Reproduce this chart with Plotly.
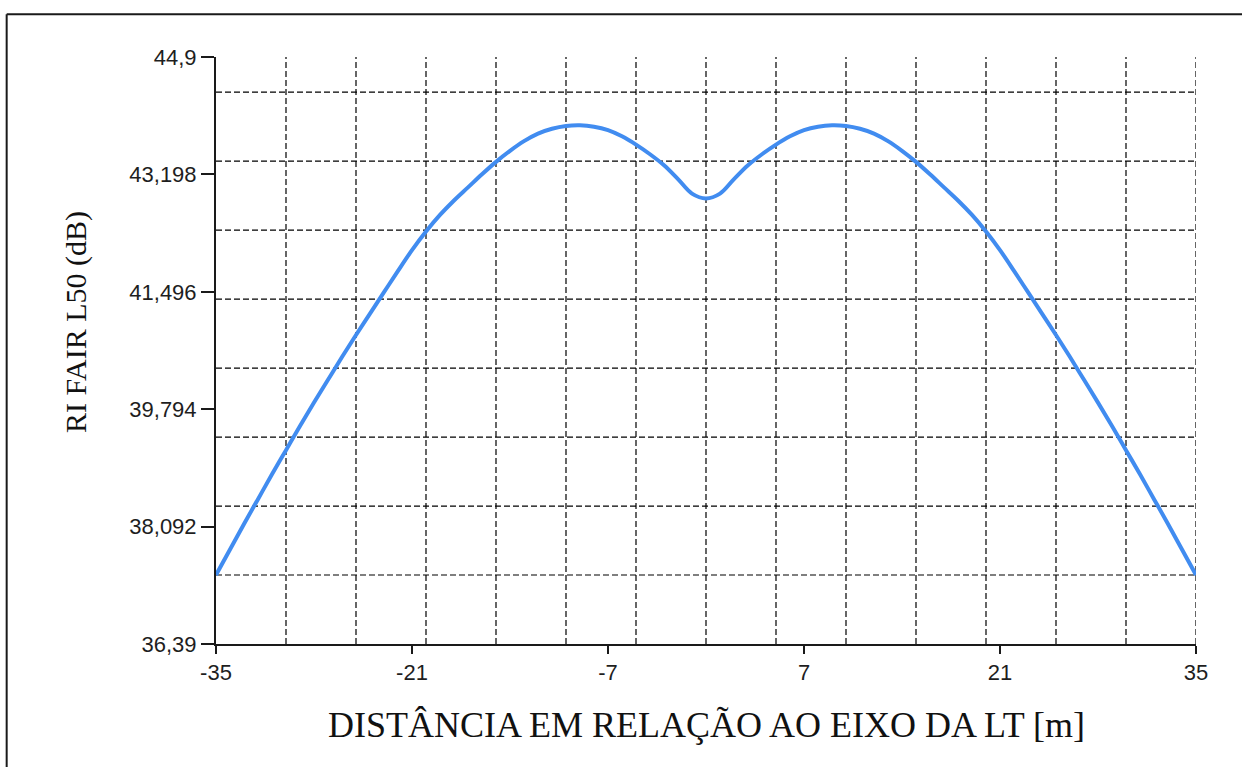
import plotly.graph_objects as go

# Lateral profile of radio interference (RI FAIR L50) across the line axis
distance_m = [-35, -34, -33, -32, -31, -30, -29, -28, -27, -26, -25, -24, -23, -22, -21,
              -20, -19, -18, -17, -16, -15, -14, -13, -12, -11, -10, -9, -8, -7, -6,
              -5, -4, -3, -2, -1, 0,
              1, 2, 3, 4, 5, 6, 7, 8, 9, 10, 11, 12, 13, 14, 15, 16, 17, 18, 19,
              20, 21, 22, 23, 24, 25, 26, 27, 28, 29, 30, 31, 32, 33, 34, 35]
ri_db = [37.39, 37.76, 38.13, 38.49, 38.85, 39.20, 39.55, 39.89, 40.22, 40.55, 40.87,
         41.18, 41.49, 41.80, 42.10, 42.37, 42.61, 42.82, 43.01, 43.20, 43.38, 43.54,
         43.68, 43.79, 43.86, 43.90, 43.91, 43.89, 43.84, 43.75, 43.63, 43.49, 43.33,
         43.13, 42.92, 42.85,
         42.92, 43.13, 43.33, 43.49, 43.63, 43.75, 43.84, 43.89, 43.91, 43.90, 43.86,
         43.79, 43.68, 43.54, 43.38, 43.20, 43.01, 42.82, 42.61, 42.37, 42.10, 41.80,
         41.49, 41.18, 40.87, 40.55, 40.22, 39.89, 39.55, 39.20, 38.85, 38.49, 38.13,
         37.76, 37.39]

# Axis ticks and grid positions
x_tickvals = [-35, -21, -7, 7, 21, 35]
x_ticktext = ["-35", "-21", "-7", "7", "21", "35"]
y_tickvals = [36.39, 38.092, 39.794, 41.496, 43.198, 44.9]
y_ticktext = ["36,39", "38,092", "39,794", "41,496", "43,198", "44,9"]
grid_x = [-30, -25, -20, -15, -10, -5, 0, 5, 10, 15, 20, 25, 30, 35]
grid_y = [37.39, 38.39, 39.39, 40.39, 41.39, 42.39, 43.39, 44.39]

x_title = "DISTÂNCIA EM RELAÇÃO AO EIXO DA LT [m]"
y_title = "RI FAIR L50 (dB)"

fig = go.Figure()
fig.add_trace(go.Scatter(
    x=distance_m, y=ri_db, mode="lines",
    line=dict(color="#418CF0", width=4, shape="spline", smoothing=1.0),
    hoverinfo="x+y", showlegend=False,
))

grid_style = dict(color="black", width=1.2, dash="6px,3px")
shapes = []
for gx in grid_x:
    shapes.append(dict(type="line", xref="x", yref="paper", x0=gx, x1=gx, y0=0, y1=1,
                       line=grid_style, layer="below"))
for gy in grid_y:
    shapes.append(dict(type="line", xref="paper", yref="y", x0=0, x1=1, y0=gy, y1=gy,
                       line=grid_style, layer="below"))
# outer frame (top and left edges)
shapes.append(dict(type="line", xref="paper", yref="paper", x0=-0.2136, x1=1.2,
                   y0=1.0727, y1=1.0727, line=dict(color="#1a1a1a", width=2)))
shapes.append(dict(type="line", xref="paper", yref="paper", x0=-0.2136, x1=-0.2136,
                   y0=1.0727, y1=-0.4, line=dict(color="#1a1a1a", width=2)))

tick_font = dict(family="Liberation Sans, Arial, sans-serif", size=22, color="#1e1e1e")
title_font = dict(family="Liberation Serif, Times New Roman, serif", color="#111111")

fig.update_layout(
    width=1242, height=767, autosize=False,
    margin=dict(l=216, r=46, t=57, b=123, pad=0),
    paper_bgcolor="white", plot_bgcolor="white",
    shapes=shapes,
    xaxis=dict(
        range=[-35, 35], tickvals=x_tickvals, ticktext=x_ticktext,
        showgrid=False, zeroline=False,
        showline=True, linecolor="#1a1a1a", linewidth=2,
        ticks="outside", ticklen=8, tickwidth=2, tickcolor="#1a1a1a",
        tickfont=tick_font,
    ),
    yaxis=dict(
        range=[36.39, 44.9], tickvals=y_tickvals, ticktext=y_ticktext,
        showgrid=False, zeroline=False,
        showline=True, linecolor="#1a1a1a", linewidth=2,
        ticks="outside", ticklen=13, tickwidth=2, tickcolor="#1a1a1a",
        tickfont=tick_font,
    ),
    annotations=[
        dict(text=x_title, xref="paper", yref="paper", x=0.5, y=-0.138,
             xanchor="center", yanchor="middle", showarrow=False,
             font=dict(size=36, **title_font)),
        dict(text=y_title, xref="paper", yref="paper", x=-0.1429, y=0.5486,
             xanchor="center", yanchor="middle", textangle=-90, showarrow=False,
             font=dict(size=30, **title_font)),
    ],
)

fig.write_html("out.html")
